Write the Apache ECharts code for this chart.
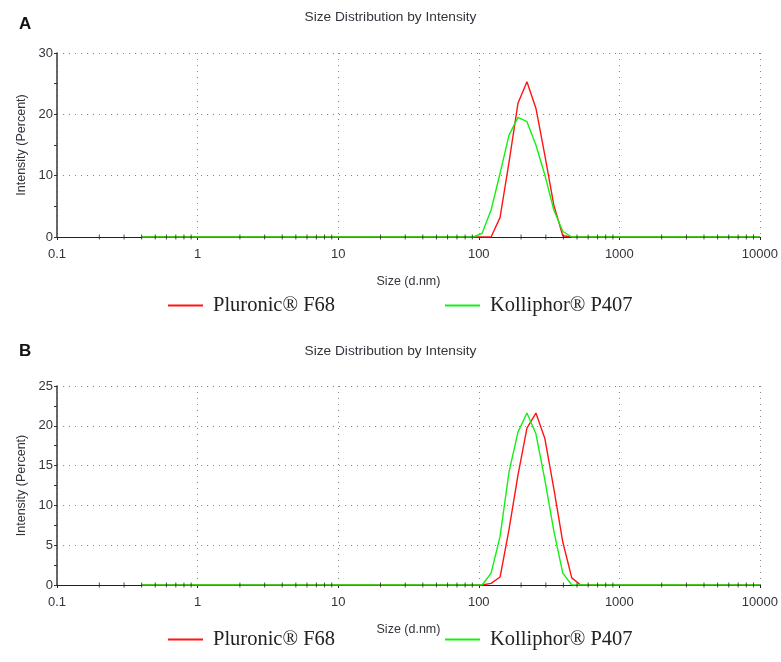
<!DOCTYPE html>
<html>
<head>
<meta charset="utf-8">
<script src="https://cdn.jsdelivr.net/npm/echarts@6/dist/echarts.min.js"></script>
<style>html,body{margin:0;padding:0;background:#fff}#c{width:781px;height:662px}</style>
</head>
<body>
<div id="c"></div>
<script>
// Malvern size bins (d.nm)
var sizes = [0.4, 0.4632, 0.5365, 0.6213, 0.7195, 0.8332, 0.9649, 1.117, 1.294, 1.499,
  1.736, 2.01, 2.328, 2.696, 3.122, 3.615, 4.187, 4.849, 5.615, 6.503,
  7.531, 8.721, 10.1, 11.7, 13.54, 15.69, 18.17, 21.04, 24.36, 28.21,
  32.67, 37.84, 43.82, 50.75, 58.77, 68.06, 78.82, 91.28, 105.7, 122.4,
  141.8, 164.2, 190.1, 220.2, 255, 295.3, 342, 396.1, 458.7, 531.2,
  615.1, 712.4, 825, 955.4, 1106, 1281, 1484, 1718, 1990, 2305,
  2669, 3091, 3580, 4145, 4801, 5560, 6439, 7456, 8635, 10000];

var pluronicA = [0,0,0,0,0,0,0,0,0,0, 0,0,0,0,0,0,0,0,0,0, 0,0,0,0,0,0,0,0,0,0,
  0,0,0,0,0,0,0,0,0,0, 3.2,12.2,21.8,25.3,21.0,13.3,5.2,0.2,0,0,
  0,0,0,0,0,0,0,0,0,0, 0,0,0,0,0,0,0,0,0,0];
var kolliphorA = [0,0,0,0,0,0,0,0,0,0, 0,0,0,0,0,0,0,0,0,0, 0,0,0,0,0,0,0,0,0,0,
  0,0,0,0,0,0,0,0,0.6,4.4, 10.4,16.6,19.5,18.8,15.0,10.1,4.4,0.9,0,0,
  0,0,0,0,0,0,0,0,0,0, 0,0,0,0,0,0,0,0,0,0];
var pluronicB = [0,0,0,0,0,0,0,0,0,0, 0,0,0,0,0,0,0,0,0,0, 0,0,0,0,0,0,0,0,0,0,
  0,0,0,0,0,0,0,0,0,0.2, 1.0,7.0,13.8,19.7,21.6,18.4,12.1,5.4,0.9,0,
  0,0,0,0,0,0,0,0,0,0, 0,0,0,0,0,0,0,0,0,0];
var kolliphorB = [0,0,0,0,0,0,0,0,0,0, 0,0,0,0,0,0,0,0,0,0, 0,0,0,0,0,0,0,0,0,0,
  0,0,0,0,0,0,0,0,0,1.5, 6.1,14.2,19.2,21.6,19.0,13.2,6.8,1.5,0,0,
  0,0,0,0,0,0,0,0,0,0, 0,0,0,0,0,0,0,0,0,0];

var xMinorTicks = [0.2,0.3,0.4,0.5,0.6,0.7,0.8,0.9, 2,3,4,5,6,7,8,9,
  20,30,40,50,60,70,80,90, 200,300,400,500,600,700,800,900,
  2000,3000,4000,5000,6000,7000,8000,9000];

var seriesNames = ['Pluronic® F68', 'Kolliphor® P407'];
var chartTitle = 'Size Distribution by Intensity';
var xName = 'Size (d.nm)';
var yName = 'Intensity (Percent)';

function pairs(vals) { return sizes.map(function (s, i) { return [s, vals[i]]; }); }
function tickPairs() { return xMinorTicks.map(function (t) { return [t, 0]; }); }

var FONT = 'Liberation Sans';
var TXT = '#33343c';
var RED = '#ff1414', GREEN = '#14f014';

function xAxisCfg(gi) {
  return {
    type: 'log', logBase: 10, min: 0.1, max: 10000, gridIndex: gi,
    name: xName, nameLocation: 'middle', nameGap: 38,
    nameTextStyle: { fontFamily: FONT, fontSize: 12.5, color: TXT },
    axisLine: { show: true, lineStyle: { color: '#222', width: 1.2 } },
    axisTick: { show: true, length: 3, lineStyle: { color: '#222' } },
    axisLabel: { fontFamily: FONT, fontSize: 13, color: TXT, margin: 11,
      formatter: function (v) { return String(v); } },
    splitLine: { show: true, lineStyle: { color: '#888', type: [1, 5], width: 1 } },
    minorTick: { show: false }
  };
}
function yAxisCfg(gi, max, interval) {
  return {
    type: 'value', min: 0, max: max, interval: interval, gridIndex: gi,
    name: yName, nameLocation: 'middle', nameGap: 27,
    nameTextStyle: { fontFamily: FONT, fontSize: 12.5, color: TXT },
    axisLine: { show: true, lineStyle: { color: '#444', width: 1.6 } },
    axisTick: { show: true, length: 3, lineStyle: { color: '#333' } },
    minorTick: { show: true, splitNumber: 2, length: 3, lineStyle: { color: '#333' } },
    axisLabel: { fontFamily: FONT, fontSize: 13, color: TXT, margin: 4 },
    splitLine: { show: true, lineStyle: { color: '#888', type: [1, 5], width: 1 } }
  };
}
function lineSeries(name, vals, gi, color) {
  return { type: 'line', name: name, xAxisIndex: gi, yAxisIndex: gi, data: pairs(vals),
    showSymbol: false, symbol: 'none', smooth: false, animation: false,
    lineStyle: { color: color, width: 1.4 }, itemStyle: { color: color }, z: 3 };
}
function tickSeries(gi) {
  return { type: 'scatter', xAxisIndex: gi, yAxisIndex: gi, data: tickPairs(),
    symbol: 'rect', symbolSize: [1, 5], itemStyle: { color: '#222' }, silent: true,
    animation: false, z: 5, clip: false };
}
function legendCfg(name, left, top, color) {
  return { data: [name], left: left, top: top, icon: 'rect', itemWidth: 35, itemHeight: 2,
    itemStyle: { color: color },
    textStyle: { fontFamily: 'Liberation Serif', fontSize: 20.5, color: '#222', padding: [0, 0, 0, 5] },
    selectedMode: false };
}

var chart = echarts.init(document.getElementById('c'), null, { renderer: 'canvas' });
chart.setOption({
  animation: false,
  backgroundColor: '#fff',
  title: [
    { text: chartTitle, left: 'center', top: 5, textStyle: { fontFamily: FONT, fontSize: 13.7, fontWeight: 'normal', color: TXT } },
    { text: 'A', left: 14, top: 11, textStyle: { fontFamily: FONT, fontSize: 17, fontWeight: 'bold', color: '#111' } },
    { text: chartTitle, left: 'center', top: 339, textStyle: { fontFamily: FONT, fontSize: 13.7, fontWeight: 'normal', color: TXT } },
    { text: 'B', left: 14, top: 338, textStyle: { fontFamily: FONT, fontSize: 17, fontWeight: 'bold', color: '#111' } }
  ],
  legend: [
    legendCfg(seriesNames[0], 163, 290, RED),
    legendCfg(seriesNames[1], 440, 290, GREEN),
    legendCfg(seriesNames[0], 163, 624, RED),
    legendCfg(seriesNames[1], 440, 624, GREEN)
  ],
  grid: [
    { left: 57, top: 53, width: 705, height: 184 },
    { left: 57, top: 386, width: 705, height: 199 }
  ],
  xAxis: [xAxisCfg(0), xAxisCfg(1)],
  yAxis: [yAxisCfg(0, 30, 10), yAxisCfg(1, 25, 5)],
  series: [
    lineSeries(seriesNames[0], pluronicA, 0, RED),
    lineSeries(seriesNames[1], kolliphorA, 0, GREEN),
    tickSeries(0),
    lineSeries(seriesNames[0], pluronicB, 1, RED),
    lineSeries(seriesNames[1], kolliphorB, 1, GREEN),
    tickSeries(1)
  ]
});
</script>
</body>
</html>
